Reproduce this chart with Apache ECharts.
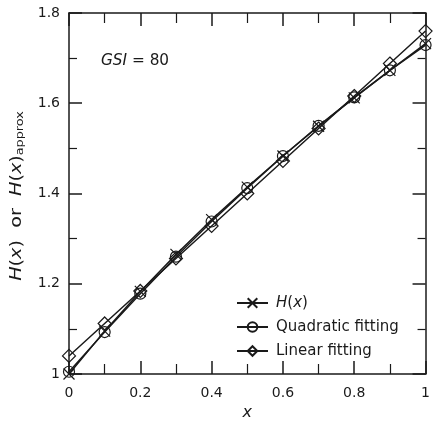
<!DOCTYPE html>
<html><head><meta charset="utf-8">
<script src="https://cdn.jsdelivr.net/npm/echarts@6/dist/echarts.min.js"></script>
<style>html,body{margin:0;padding:0;background:#fff}#c{width:433px;height:428px}</style>
</head><body><div id="c"></div>
<script>
const xs = [0, 0.1, 0.2, 0.3, 0.4, 0.5, 0.6, 0.7, 0.8, 0.9, 1];
const hx = [1.000, 1.095, 1.183, 1.265, 1.342, 1.414, 1.483, 1.549, 1.612, 1.673, 1.732];
const quad = [1.005, 1.093, 1.178, 1.260, 1.338, 1.412, 1.483, 1.550, 1.613, 1.673, 1.729];
const lin = [1.040, 1.112, 1.184, 1.256, 1.328, 1.400, 1.472, 1.544, 1.616, 1.688, 1.760];
const seriesNames = ['{i|H}({i|x})', 'Quadratic fitting', 'Linear fitting'];
const xTicks = [0, 0.2, 0.4, 0.6, 0.8, 1];
const yTicks = [1, 1.2, 1.4, 1.6, 1.8];

const font = '"DejaVu Sans", sans-serif';
const ink = '#1a1a1a';
const cross = 'path://M0,0L10,10M10,0L0,10';
function mk(name, vals, symbol, size) {
  return {
    name: name, type: 'line', data: xs.map((x, i) => [x, vals[i]]),
    symbol: symbol, symbolSize: size, showAllSymbol: true,
    lineStyle: {color: ink, width: 1.5},
    itemStyle: {color: 'rgba(255,255,255,0)', borderColor: ink, borderWidth: 1.2},
    emphasis: {disabled: true}, z: 3
  };
}
function axisCommon(majorLen, minorLen) {
  return {
    axisLine: {onZero: false, lineStyle: {color: ink, width: 1.5}},
    axisTick: {inside: true, length: majorLen, lineStyle: {color: ink, width: 1.5}},
    minorTick: {show: true, splitNumber: 2, length: minorLen, lineStyle: {color: ink, width: 1.2}},
    splitLine: {show: false}
  };
}
const xLabelStyle = {color: ink, fontSize: 14, margin: 12, fontFamily: font};
const yLabelStyle = {color: ink, fontSize: 14, margin: 9, fontFamily: font};
const chart = echarts.init(document.getElementById('c'));
chart.setOption({
  animation: false,
  textStyle: {fontFamily: font},
  grid: {left: 69, top: 13, right: 2, bottom: 54},
  xAxis: [
    Object.assign({type: 'value', min: xTicks[0], max: xTicks[xTicks.length - 1], interval: 0.2, position: 'bottom',
      axisLabel: xLabelStyle,
      name: 'x', nameLocation: 'middle', nameGap: 25,
      nameTextStyle: {fontStyle: 'italic', fontSize: 16, color: ink, fontFamily: font}}, axisCommon(13, 10)),
    Object.assign({type: 'value', min: xTicks[0], max: xTicks[xTicks.length - 1], interval: 0.2, position: 'top',
      axisLabel: {show: false}}, axisCommon(13, 10))
  ],
  yAxis: [
    Object.assign({type: 'value', min: yTicks[0], max: yTicks[yTicks.length - 1], interval: 0.2, position: 'left',
      axisLabel: yLabelStyle}, axisCommon(13, 8)),
    Object.assign({type: 'value', min: yTicks[0], max: yTicks[yTicks.length - 1], interval: 0.2, position: 'right',
      axisLabel: {show: false}}, axisCommon(13, 8))
  ],
  legend: {
    orient: 'vertical', left: 231, top: 290, itemWidth: 31, itemHeight: 12, itemGap: 8,
    textStyle: {fontSize: 15, color: ink, fontFamily: font, lineHeight: 16, padding: [0, 0, 0, 3],
      rich: {i: {fontStyle: 'italic', fontSize: 15, color: ink, fontFamily: font, lineHeight: 16}}},
    data: seriesNames
  },
  graphic: [{
    type: 'text', x: 101, y: 61, scaleX: 1.02,
    style: {text: '{i|GSI} = 80', fill: ink, font: '15px ' + font, verticalAlign: 'middle',
      rich: {i: {fontStyle: 'italic', fontSize: 15, fill: ink, fontFamily: font}}}
  }, {
    type: 'text', x: 16, y: 196, rotation: Math.PI / 2, scaleX: 1.28,
    style: {text: '{i|H}{n|(}{i|x}{n|)  or  }{i|H}{n|(}{i|x}{n|)}{s|approx}',
      align: 'center', verticalAlign: 'middle', fill: ink,
      rich: {
        i: {fontStyle: 'italic', fontSize: 15, fill: ink, fontFamily: font, verticalAlign: 'bottom', lineHeight: 18},
        n: {fontSize: 15, fill: ink, fontFamily: font, verticalAlign: 'bottom', lineHeight: 18},
        s: {fontSize: 10, fill: ink, fontFamily: font, verticalAlign: 'bottom', lineHeight: 14}
      }}
  }],
  series: [
    mk(seriesNames[0], hx, cross, 11),
    mk(seriesNames[1], quad, 'circle', 11),
    mk(seriesNames[2], lin, 'diamond', 13)
  ]
});
</script></body></html>
